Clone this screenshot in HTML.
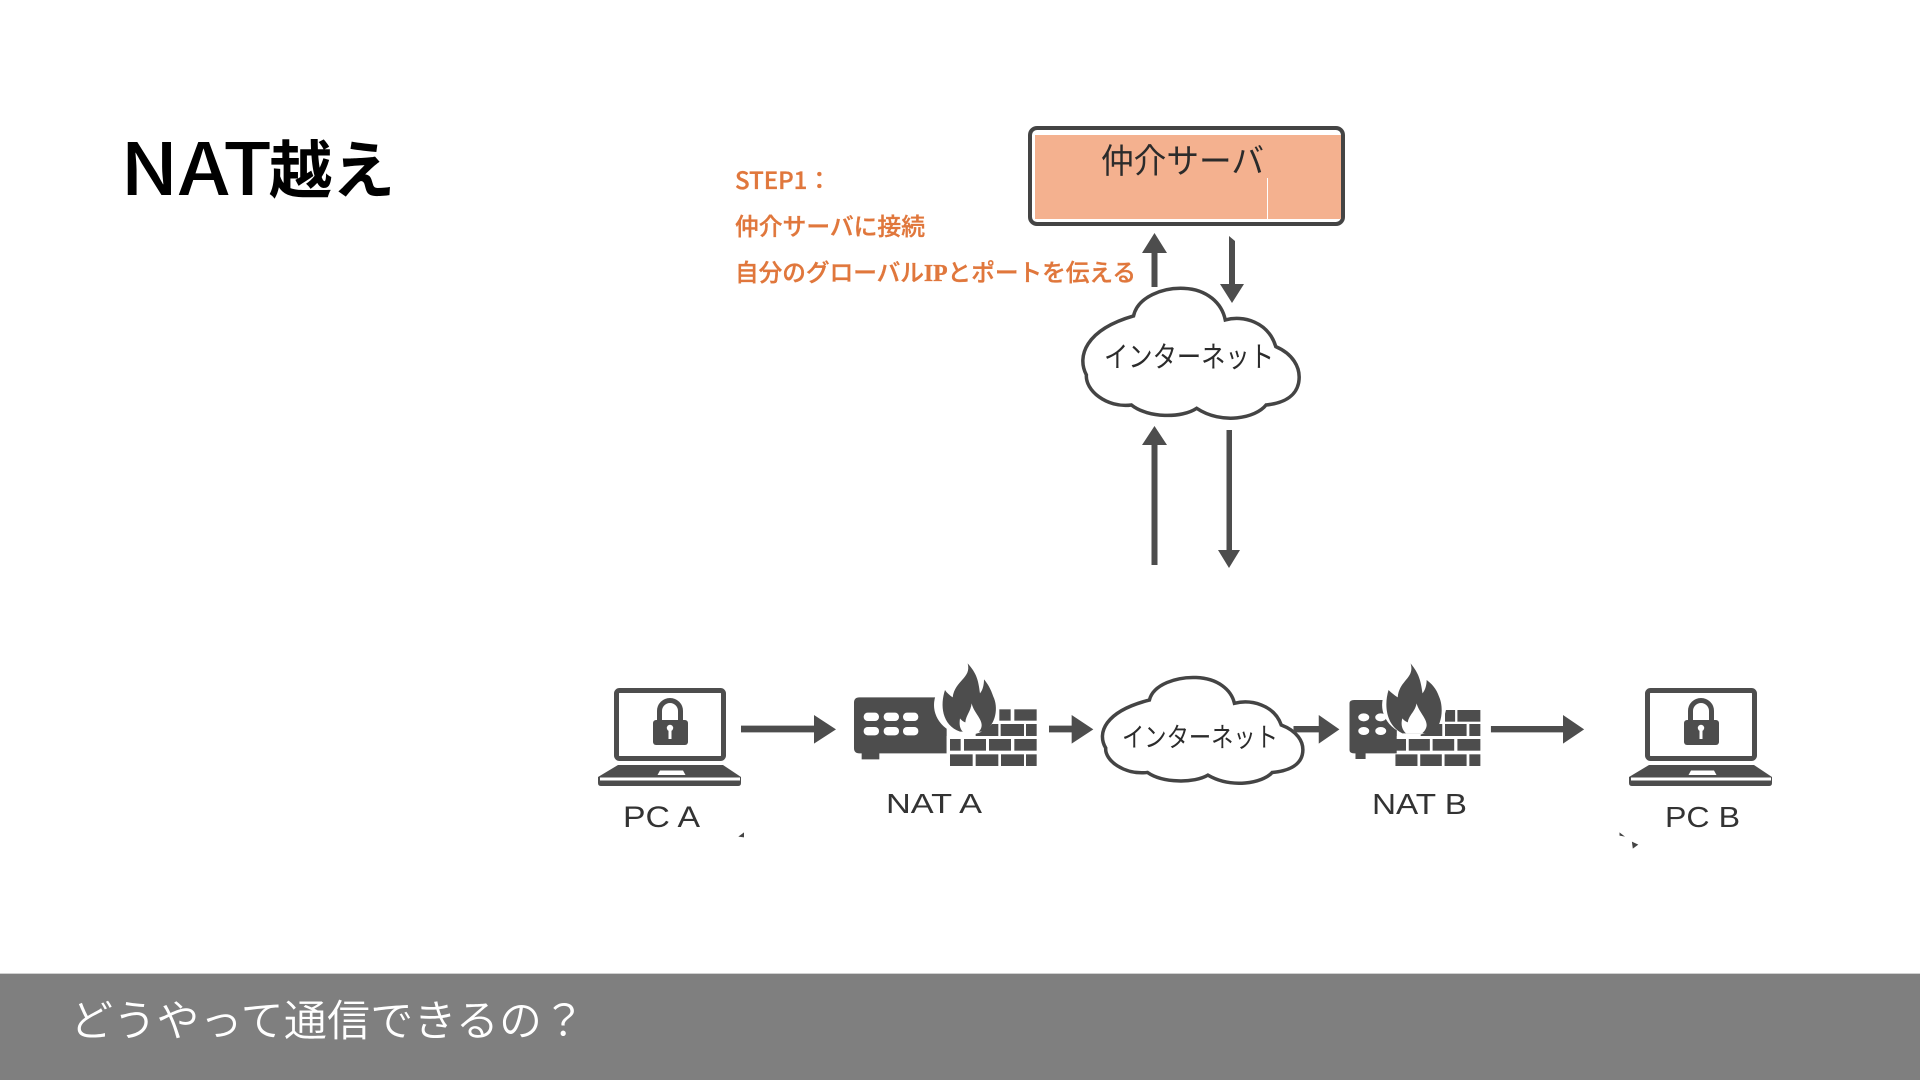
<!DOCTYPE html>
<html lang="ja">
<head>
<meta charset="utf-8">
<title>NAT越え</title>
<style>
html,body{margin:0;padding:0;background:#fff;width:1920px;height:1080px;overflow:hidden}
svg{display:block}
text{font-family:"Liberation Sans","Noto Sans CJK JP",sans-serif}
.o{fill:#e0773c;stroke:#e0773c;stroke-width:.35px;font-size:24px;font-weight:500;font-family:"Noto Sans CJK JP",sans-serif}
.d{fill:#2b2b2b;font-family:"Noto Sans CJK JP",sans-serif}
.a{fill:#4d4d4d}
.c{fill:#fff;stroke:#444;stroke-width:3.500}
</style>
</head>
<body>
<svg width="1920" height="1080" viewBox="0 0 1920 1080" xmlns="http://www.w3.org/2000/svg">
<defs>
  <g id="laptop">
    <rect x="616.500" y="690.500" width="107" height="68" rx="3" fill="#fff" stroke="#4d4d4d" stroke-width="5"/>
    <path d="M659.500,720V711a10.500,10.500 0 0 1 21,0V720" fill="none" stroke="#4d4d4d" stroke-width="5"/>
    <rect x="653" y="720" width="35" height="25" rx="3" fill="#4d4d4d"/>
    <circle cx="670" cy="728" r="3.200" fill="#fff"/>
    <rect x="668.500" y="728" width="3" height="11" fill="#fff"/>
    <path d="M618,765H723L741,777V783Q741,786 738,786H601Q598,786 598,783V777Z" fill="#4d4d4d"/>
    <rect x="600" y="777.500" width="140" height="3" fill="#fff"/>
    <path d="M660,770.500H683L685.500,775H657.500Z" fill="#fff"/>
  </g>
  <path id="cloud" vector-effect="non-scaling-stroke" d="M1030,648C1040,590 1100,562 1150,565C1205,568 1240,610 1248,660C1290,645 1350,665 1368,740C1405,760 1430,800 1422,850C1415,890 1385,910 1345,915C1320,955 1240,975 1180,925C1145,955 1065,955 1025,915C965,925 915,870 918,825C895,770 915,690 1030,648Z"/>
</defs>

<!-- title -->
<text x="120" y="195" font-size="72" font-weight="500" fill="#000" style="font-family:'Noto Sans CJK JP',sans-serif" textLength="152" lengthAdjust="spacingAndGlyphs">NAT</text>
<text x="269" y="193" font-size="63" font-weight="700" fill="#000" style="font-family:'Noto Sans CJK JP',sans-serif">越え</text>

<!-- orange text -->
<text class="o" x="735" y="189">STEP1：</text>
<text class="o" x="735" y="235" textLength="190" lengthAdjust="spacingAndGlyphs">仲介サーバに接続</text>
<text class="o" x="735" y="281" textLength="401" lengthAdjust="spacingAndGlyphs">自分のグローバル<tspan font-weight="700" style="font-family:'Liberation Serif',serif">IP</tspan>とポートを伝える</text>

<!-- server -->
<rect x="1030" y="128" width="313" height="96" fill="#fff" stroke="#444" stroke-width="4" rx="7"/>
<rect x="1035" y="135" width="306" height="84" fill="#f4b18f"/>
<rect x="1267" y="178" width="1" height="41" fill="#fff"/>
<text x="1101" y="173" font-size="34" fill="#2b2b2b" textLength="163" lengthAdjust="spacingAndGlyphs">仲介サーバ</text>

<!-- vertical arrows upper -->
<path class="a" d="M1151.500,287V253H1142L1154.500,233L1167,253H1157.500V287Z"/>
<path class="a" d="M1229,236L1235,241V284H1244L1232,303L1220,284H1229Z"/>
<use href="#cloud" class="c" transform="matrix(.4209 0 0 .3333 700 100)"/>
<text class="d" x="1104" y="367" font-size="29" textLength="170" lengthAdjust="spacingAndGlyphs">インターネット</text>

<!-- vertical arrows lower -->
<path class="a" d="M1151.500,565V445H1142L1154.500,426L1167,445H1157.500V565Z"/>
<path class="a" d="M1226.500,430H1232V550H1240L1229,568L1218,550H1226.500Z"/>

<!-- laptops -->
<use href="#laptop"/>
<use href="#laptop" transform="translate(1031 0)"/>

<!-- PC labels -->
<text x="623" y="827" font-size="30" fill="#333" textLength="77" lengthAdjust="spacingAndGlyphs">PC A</text>
<text x="1665" y="827" font-size="29" fill="#333" textLength="75" lengthAdjust="spacingAndGlyphs">PC B</text>

<!-- NAT A, coordinates from crop -->
<g transform="translate(580 650) scale(.33333)">
  <path class="a" d="M483,227H702V195L768,238L702,281V247H483Z"/>
  <path class="a" d="M838,142H1100V310H898V328H845V310H838Q822,310 822,294V158Q822,142 838,142Z"/>
  <g fill="#fff">
    <rect x="851" y="188" width="46" height="25" rx="12"/><rect x="911" y="188" width="46" height="25" rx="12"/><rect x="969" y="188" width="46" height="25" rx="12"/>
    <rect x="851" y="231" width="46" height="25" rx="12"/><rect x="911" y="231" width="46" height="25" rx="12"/><rect x="969" y="231" width="46" height="25" rx="12"/>
  </g>
  <rect x="1100" y="258" width="10" height="52" fill="#fff"/>
  <g class="a">
    <rect x="1258" y="178" width="34" height="34"/><rect x="1303" y="178" width="67" height="34"/>
    <rect x="1187" y="222" width="68" height="36"/><rect x="1262" y="222" width="70" height="36"/><rect x="1338" y="222" width="32" height="36"/>
    <rect x="1110" y="267" width="32" height="35"/><rect x="1152" y="267" width="66" height="35"/><rect x="1227" y="267" width="66" height="35"/><rect x="1303" y="267" width="67" height="35"/>
    <rect x="1110" y="313" width="68" height="35"/><rect x="1187" y="313" width="68" height="35"/><rect x="1263" y="313" width="69" height="35"/><rect x="1338" y="313" width="32" height="35"/>
  </g>
  <ellipse cx="1160" cy="165" rx="98" ry="90" fill="#fff"/>
  <path class="a" d="M1163,40C1175,85 1125,90 1118,142C1108,135 1100,128 1095,120C1080,165 1085,225 1140,245H1210C1250,225 1255,170 1240,140C1232,115 1222,100 1212,88C1212,105 1208,120 1200,130C1195,90 1190,70 1163,40Z"/>
  <path d="M1175,160C1180,185 1205,205 1205,225C1205,235 1200,242 1195,246H1150C1140,238 1137,225 1140,205C1146,212 1150,215 1156,217C1158,195 1172,185 1175,160Z" fill="#fff"/>
  <path d="M475,560L492,547V562Z" fill="#444"/>
  <path class="a" d="M1407,227H1475V195L1540,238L1475,281V247H1407Z"/>
</g>
<text x="886" y="813" font-size="28" fill="#333" textLength="96" lengthAdjust="spacingAndGlyphs">NAT A</text>

<!-- lower cloud -->
<use href="#cloud" class="c" transform="matrix(.39 0 0 .2712 747.700 524.300)"/>
<text class="d" x="1122" y="747" font-size="27" textLength="156" lengthAdjust="spacingAndGlyphs">インターネット</text>

<!-- NAT B, coordinates from crop -->
<g transform="translate(1080 650) scale(.45914 .33333)">
  <path class="a" d="M465,228H520V195L565,238L520,281V247H465Z"/>
  <path class="a" d="M597,150H690V310H622V327H600V310H597Q587,310 587,300V160Q587,150 597,150Z"/>
  <g fill="#fff">
    <circle cx="618" cy="202" r="12"/><circle cx="655" cy="202" r="12"/><circle cx="618" cy="243" r="12"/><circle cx="655" cy="243" r="12"/>
  </g>
  <rect x="690" y="258" width="10" height="52" fill="#fff"/>
  <g class="a">
    <rect x="795" y="180" width="22" height="35"/><rect x="822" y="180" width="50" height="35"/>
    <rect x="742" y="222" width="47" height="36"/><rect x="795" y="222" width="47" height="36"/><rect x="848" y="222" width="24" height="36"/>
    <rect x="687" y="267" width="23" height="35"/><rect x="716" y="267" width="46" height="35"/><rect x="768" y="267" width="47" height="35"/><rect x="822" y="267" width="50" height="35"/>
    <rect x="687" y="313" width="48" height="35"/><rect x="741" y="313" width="47" height="35"/><rect x="794" y="313" width="48" height="35"/><rect x="848" y="313" width="24" height="35"/>
  </g>
  <ellipse cx="728" cy="165" rx="70" ry="90" fill="#fff"/>
  <path class="a" d="M720,40C730,85 695,90 692,142C684,135 678,128 672,120C662,165 666,225 702,250H768C790,225 792,170 782,140C776,115 765,100 755,90C755,105 752,120 746,130C742,90 738,70 720,40Z"/>
  <path d="M733,160C738,185 755,205 755,225C755,235 750,245 745,250H710C702,240 698,225 702,205C706,212 710,215 714,217C716,195 730,185 733,160Z" fill="#fff"/>
  <path class="a" d="M895,228H1052V195L1098,238L1052,281V247H895Z"/>
  <path d="M1175,547L1187,560L1175,557Z" fill="#444"/>
  <path d="M1202,575L1216,584L1204,596Z" fill="#444"/>
</g>
<text x="1372" y="814" font-size="29" fill="#333" textLength="95" lengthAdjust="spacingAndGlyphs">NAT B</text>

<!-- bottom band -->
<rect x="0" y="974" width="1920" height="106" fill="#7f7f7f"/>
<rect x="0" y="973" width="1920" height="1" fill="#d0d0d0"/>
<text x="70" y="1036" font-size="43" font-weight="350" fill="#fff" letter-spacing=".2" style="font-family:'Noto Sans CJK JP',sans-serif">どうやって通信できるの？</text>
</svg>
</body>
</html>
